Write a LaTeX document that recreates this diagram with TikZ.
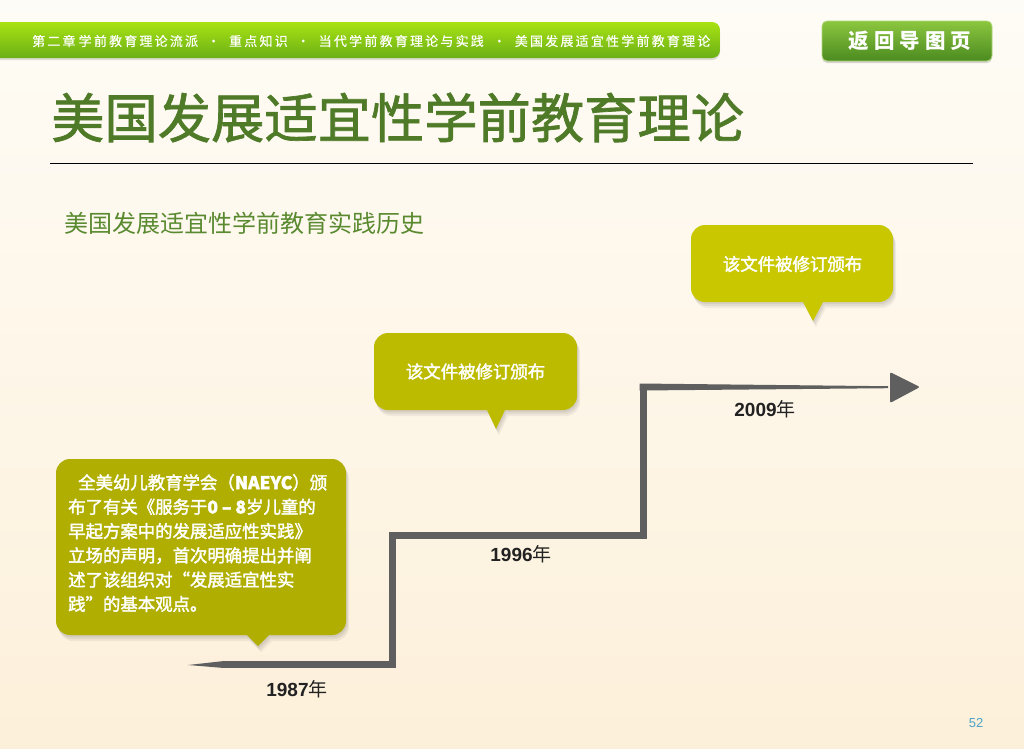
\documentclass[tikz,border=0pt]{standalone}
\usepackage{fontspec}
\setmainfont{Liberation Sans}
\newfontfamily\cjk{Noto Sans CJK SC}
\newfontfamily\cjkmed[FakeBold=2]{Noto Sans CJK SC}
\newfontfamily\cjktitle[FakeBold=1.3]{Noto Sans CJK SC}
\newfontfamily\cjkbar[LetterSpace=17,FakeBold=0.4]{Noto Sans CJK SC}
\newfontfamily\cjkbtn[LetterSpace=24]{Noto Sans CJK SC}
\definecolor{bgtop}{HTML}{FEFCF6}
\definecolor{bgbot}{HTML}{FDF0DA}
\definecolor{bartop}{HTML}{A8E214}
\definecolor{barbot}{HTML}{6BB015}
\definecolor{btntop}{HTML}{8CC63F}
\definecolor{btnbot}{HTML}{4B8A20}
\definecolor{titlegreen}{HTML}{4F7B29}
\definecolor{subgreen}{HTML}{5A8A30}
\definecolor{cone}{HTML}{B0AE00}
\definecolor{ctwo}{HTML}{BDBB00}
\definecolor{cthree}{HTML}{C9C800}
\definecolor{stairgray}{HTML}{5F5F5F}
\definecolor{yeartext}{HTML}{222222}
\definecolor{pagecol}{HTML}{4AA3C8}
\newcommand\bubblepath[8]{%
  \path[fill=#1, softshadow] (#6-#7,#5) [rounded corners=14pt] -- (#2,#5) -- (#2,#3) -- (#4,#3) -- (#4,#5) [sharp corners] -- (#6+#7,#5) -- (#6,#5+#8) -- cycle;}
\begin{document}
\begin{tikzpicture}[x=1pt,y=-1pt,
  softshadow/.style={
    preaction={fill=black,opacity=0.06,transform canvas={xshift=1pt,yshift=-2pt}},
    preaction={fill=black,opacity=0.06,transform canvas={xshift=2pt,yshift=-4pt}},
    preaction={fill=black,opacity=0.05,transform canvas={xshift=3pt,yshift=-6pt}}},
  ctext/.style={text=white, inner sep=0pt, font=\cjkmed\fontsize{17.4}{24.3}\selectfont},
  year/.style={text=yeartext, inner sep=0pt, font=\bfseries\fontsize{19}{19}\selectfont},
  stair/.style={draw=stairgray, line width=7pt, miter limit=10},
  stairfill/.style={fill=stairgray}
]
\useasboundingbox (0,0) rectangle (1024,748);
% background
\shade[top color=bgtop, bottom color=bgbot] (0,0) rectangle (1024,748);

% top bar
\path[top color=bartop, bottom color=barbot, rounded corners=8pt,
  preaction={fill=black,opacity=0.12,transform canvas={yshift=-2pt}}] (-20,22) rectangle (720,58);
\node[anchor=west, inner sep=0pt, text=white, font=\cjkbar\fontsize{13}{13}\selectfont] (bartext) at (32,41)
  {第二章\hspace{3pt}学前教育理论流派\hspace{9pt}•\hspace{9pt}重点知识\hspace{9pt}•\hspace{9pt}当代学前教育理论与实践\hspace{9pt}•\hspace{9pt}美国发展适宜性学前教育理论};

% button
\path[top color=btntop, bottom color=btnbot, rounded corners=5pt, draw=btntop!70!white, line width=0.8pt,
  preaction={fill=black,opacity=0.15,transform canvas={yshift=-2pt}}] (822,21) rectangle (992,61);
\node[inner sep=0pt, text=white, font=\cjkbtn\bfseries\fontsize{20.5}{20.5}\selectfont] (btntext) at (910,41) {返回导图页};

% title
\node[anchor=west, inner sep=0pt, text=titlegreen, font=\cjktitle\fontsize{53.3}{53.3}\selectfont] (title) at (51,117.5) {美国发展适宜性学前教育理论};
\draw[black, line width=1.2pt] (50,163.5) -- (973,163.5);
\node[anchor=west, inner sep=0pt, text=subgreen, font=\cjk\fontsize{24}{24}\selectfont] (subtitle) at (64,223) {美国发展适宜性学前教育实践历史};

% staircase timeline
\coordinate (s0) at (188,665);
\coordinate (s1) at (392,664.5);
\coordinate (s2) at (392,535);
\coordinate (s3) at (643,535);
\coordinate (s4) at (643,383.5);
\coordinate (s5) at (888,387);
\coordinate (tip) at (920,387);
\fill[stairfill] (s0) -- (224,661) -- (224,668) -- cycle;
\draw[stair] (222,664.5) -- (s1) -- (s2) -- (s3) -- (s4);
\fill[stairfill] (639.5,383.5) -- (888,386.2) -- (888,388.2) -- (639.5,390.5) -- cycle;
\fill[stairfill, rounded corners=2pt] (890,372) -- (tip) -- (890,403) -- cycle;

% years
\node[year] (y1) at (297,689) {1987{\cjk\mdseries 年}};
\node[year] (y2) at (521,554) {1996{\cjk\mdseries 年}};
\node[year] (y3) at (765,409) {2009{\cjk\mdseries 年}};

% callouts
\bubblepath{cone}{56}{459}{346}{635}{258}{11}{11}
\bubblepath{ctwo}{374}{333}{577}{410}{496}{9}{19}
\bubblepath{cthree}{691}{225}{893}{302}{813}{10}{19}

\node[ctext, anchor=north west, align=left] (t1) at (68,474) {%
\hspace*{10pt}全美幼儿教育学会（{\bfseries NAEYC}）颁\\
布了有关《服务于{\bfseries 0 – 8}岁儿童的\\
早起方案中的发展适应性实践》\\
立场的声明，首次明确提出并阐\\
述了该组织对“发展适宜性实\\
践”的基本观点。};
\node[ctext] (t2) at (475.5,371.5) {该文件被修订颁布};
\node[ctext] (t3) at (792.5,264) {该文件被修订颁布};

% page number
\node[inner sep=0pt, text=pagecol, font=\fontsize{13}{13}\selectfont] (pg) at (976,723) {52};
\end{tikzpicture}
\end{document}
